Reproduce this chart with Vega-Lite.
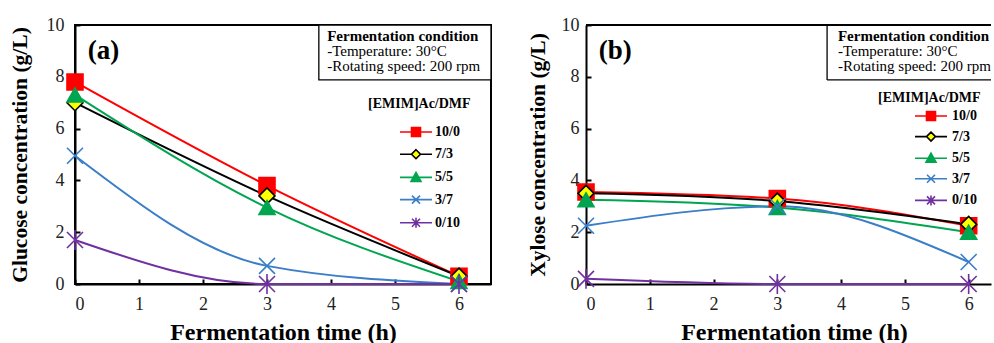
{
  "$schema": "https://vega.github.io/schema/vega-lite/v6.json",
  "padding": {"left": 7, "top": 15, "right": 0, "bottom": 0},
  "background": "white",
  "spacing": 95,
  "bounds": "flush",
  "config": {
    "font": "Liberation Serif",
    "view": {"stroke": "black", "strokeWidth": 2},
    "axis": {
      "grid": false,
      "domainColor": "black",
      "domainWidth": 2,
      "tickColor": "black",
      "tickWidth": 2,
      "tickSize": -5,
      "labelFont": "Liberation Serif",
      "labelFontSize": 18,
      "labelColor": "#222",
      "titleFont": "Liberation Serif",
      "titleFontWeight": "bold",
      "titleColor": "black",
      "format": "d"
    },
    "legend": {
      "titleFont": "Liberation Serif",
      "titleFontSize": 14,
      "titleFontWeight": "bold",
      "titleColor": "black",
      "labelFont": "Liberation Serif",
      "labelFontSize": 14,
      "labelFontWeight": "bold",
      "labelColor": "black",
      "symbolSize": 100,
      "symbolStrokeWidth": 1.6,
      "symbolOpacity": 1
    }
  },
  "datasets": {
    "glucose": [
      {"t": 0, "c": 7.8, "ratio": "10/0"}, {"t": 3, "c": 3.8, "ratio": "10/0"}, {"t": 6, "c": 0.3, "ratio": "10/0"},
      {"t": 0, "c": 7.0, "ratio": "7/3"}, {"t": 3, "c": 3.4, "ratio": "7/3"}, {"t": 6, "c": 0.3, "ratio": "7/3"},
      {"t": 0, "c": 7.3, "ratio": "5/5"}, {"t": 3, "c": 2.95, "ratio": "5/5"}, {"t": 6, "c": 0.1, "ratio": "5/5"},
      {"t": 0, "c": 4.95, "ratio": "3/7"}, {"t": 3, "c": 0.7, "ratio": "3/7"}, {"t": 6, "c": 0.0, "ratio": "3/7"},
      {"t": 0, "c": 1.7, "ratio": "0/10"}, {"t": 3, "c": 0.0, "ratio": "0/10"}, {"t": 6, "c": 0.0, "ratio": "0/10"}
    ],
    "xylose": [
      {"t": 0, "c": 3.55, "ratio": "10/0"}, {"t": 3, "c": 3.3, "ratio": "10/0"}, {"t": 6, "c": 2.25, "ratio": "10/0"},
      {"t": 0, "c": 3.5, "ratio": "7/3"}, {"t": 3, "c": 3.2, "ratio": "7/3"}, {"t": 6, "c": 2.3, "ratio": "7/3"},
      {"t": 0, "c": 3.25, "ratio": "5/5"}, {"t": 3, "c": 2.95, "ratio": "5/5"}, {"t": 6, "c": 2.0, "ratio": "5/5"},
      {"t": 0, "c": 2.25, "ratio": "3/7"}, {"t": 3, "c": 3.0, "ratio": "3/7"}, {"t": 6, "c": 0.85, "ratio": "3/7"},
      {"t": 0, "c": 0.2, "ratio": "0/10"}, {"t": 3, "c": 0.0, "ratio": "0/10"}, {"t": 6, "c": 0.0, "ratio": "0/10"}
    ]
  },
  "resolve": {
    "scale": {"x": "independent", "y": "independent", "color": "independent", "shape": "independent", "fill": "independent", "stroke": "independent", "size": "independent"},
    "legend": {"shape": "independent", "fill": "independent", "stroke": "independent"}
  },
  "hconcat": [
    {
      "width": 416,
      "height": 259,
      "resolve": {"scale": {"shape": "independent", "fill": "independent", "stroke": "independent", "size": "independent"}},
      "layer": [
        {
          "data": {"name": "glucose"},
          "mark": {"type": "line", "strokeWidth": 2, "interpolate": "monotone"},
          "encoding": {
            "x": {"field": "t", "type": "quantitative", "scale": {"domain": [0, 6.5], "nice": false}, "axis": {"values": [0, 1, 2, 3, 4, 5, 6], "title": "Fermentation time (h)", "labelPadding": 16, "titlePadding": 7, "titleFontSize": 24}},
            "y": {"field": "c", "type": "quantitative", "scale": {"domain": [0, 10], "nice": false}, "axis": {"values": [0, 2, 4, 6, 8, 10], "title": "Glucose concentration (g/L)", "labelPadding": 16, "titlePadding": 15, "titleFontSize": 21.5}},
            "color": {"field": "ratio", "type": "nominal", "scale": {"domain": ["0/10", "3/7", "5/5", "7/3", "10/0"], "range": ["#7030a0", "#3a7ec8", "#00a550", "#000000", "#ff0000"]}, "legend": null}
          }
        },
        {
          "data": {"name": "glucose"},
          "mark": {"type": "point", "strokeWidth": 1.6, "opacity": 1},
          "encoding": {
            "x": {"field": "t", "type": "quantitative"},
            "y": {"field": "c", "type": "quantitative"},
            "size": {"field": "ratio", "type": "nominal", "scale": {"domain": ["0/10", "3/7", "5/5", "7/3", "10/0"], "range": [256, 256, 180, 144, 225]}, "legend": null},
            "shape": {"field": "ratio", "type": "nominal", "scale": {"domain": ["0/10", "3/7", "5/5", "7/3", "10/0"], "range": ["M-1,-1L1,1M-1,1L1,-1M0,-1.25L0,1.25", "M-1,-1L1,1M-1,1L1,-1", "triangle-up", "diamond", "square"]}, "legend": null},
            "fill": {"field": "ratio", "type": "nominal", "scale": {"domain": ["0/10", "3/7", "5/5", "7/3", "10/0"], "range": ["transparent", "transparent", "#00a550", "#ffff00", "#ff0000"]}, "legend": null},
            "stroke": {"field": "ratio", "type": "nominal", "scale": {"domain": ["0/10", "3/7", "5/5", "7/3", "10/0"], "range": ["#7030a0", "#3a7ec8", "#00a550", "#000000", "#ff0000"]}, "legend": null}
          }
        },
        {
          "data": {"name": "glucose"},
          "mark": {"type": "point", "strokeWidth": 1.6, "opacity": 0, "filled": true},
          "encoding": {
            "x": {"field": "t", "type": "quantitative"},
            "y": {"field": "c", "type": "quantitative"},
            "shape": {"field": "ratio", "type": "nominal",
              "scale": {"domain": ["10/0", "7/3", "5/5", "3/7", "0/10"], "range": ["M-3.2,0L3.2,0M-0.9,-0.9L0.9,-0.9L0.9,0.9L-0.9,0.9Z", "M-3.2,0L-0.9,0M0.9,0L3.2,0M0,-0.9L0.9,0L0,0.9L-0.9,0Z", "M-3.2,0L3.2,0M0,-1L1,0.8L-1,0.8Z", "M-3.2,0L3.2,0M-0.8,-0.8L0.8,0.8M-0.8,0.8L0.8,-0.8", "M-3.2,0L3.2,0M-0.8,-0.8L0.8,0.8M-0.8,0.8L0.8,-0.8M0,-1L0,1"]},
              "legend": {"title": "[EMIM]Ac/DMF", "orient": "none", "legendX": 293, "legendY": 72, "titlePadding": 14, "rowPadding": 6.2, "symbolOffset": 41, "labelOffset": 12, "symbolOpacity": 1}},
            "fill": {"field": "ratio", "type": "nominal",
              "scale": {"domain": ["10/0", "7/3", "5/5", "3/7", "0/10"], "range": ["#ff0000", "#ffff00", "#00a550", "transparent", "transparent"]},
              "legend": {"title": "[EMIM]Ac/DMF", "orient": "none", "legendX": 293, "legendY": 72, "titlePadding": 14, "rowPadding": 6.2, "symbolOffset": 41, "labelOffset": 12, "symbolOpacity": 1}},
            "stroke": {"field": "ratio", "type": "nominal",
              "scale": {"domain": ["10/0", "7/3", "5/5", "3/7", "0/10"], "range": ["#ff0000", "#000000", "#00a550", "#3a7ec8", "#7030a0"]},
              "legend": {"title": "[EMIM]Ac/DMF", "orient": "none", "legendX": 293, "legendY": 72, "titlePadding": 14, "rowPadding": 6.2, "symbolOffset": 41, "labelOffset": 12, "symbolOpacity": 1}}
          }
        },
        {
          "data": {"values": [{}]},
          "mark": {"type": "rect", "fill": "white", "stroke": "black", "strokeWidth": 1.3},
          "encoding": {
            "x": {"datum": 3.81, "type": "quantitative"},
            "x2": {"datum": 6.5},
            "y": {"datum": 7.88, "type": "quantitative"},
            "y2": {"datum": 10}
          }
        },
        {
          "data": {"values": [{"label": "Fermentation condition"}]},
          "mark": {"type": "text", "align": "left", "baseline": "middle", "fontSize": 15, "fontWeight": "bold", "color": "black"},
          "encoding": {"x": {"datum": 3.94, "type": "quantitative"}, "y": {"datum": 9.58, "type": "quantitative"}, "text": {"field": "label"}}
        },
        {
          "data": {"values": [{"label": "-Temperature: 30°C"}]},
          "mark": {"type": "text", "align": "left", "baseline": "middle", "fontSize": 15, "color": "black"},
          "encoding": {"x": {"datum": 3.94, "type": "quantitative"}, "y": {"datum": 8.98, "type": "quantitative"}, "text": {"field": "label"}}
        },
        {
          "data": {"values": [{"label": "-Rotating speed: 200 rpm"}]},
          "mark": {"type": "text", "align": "left", "baseline": "middle", "fontSize": 15, "color": "black"},
          "encoding": {"x": {"datum": 3.94, "type": "quantitative"}, "y": {"datum": 8.4, "type": "quantitative"}, "text": {"field": "label"}}
        },
        {
          "data": {"values": [{"label": "(a)"}]},
          "mark": {"type": "text", "align": "left", "baseline": "middle", "fontSize": 27, "fontWeight": "bold", "color": "black"},
          "encoding": {"x": {"datum": 0.2, "type": "quantitative"}, "y": {"datum": 9.0, "type": "quantitative"}, "text": {"field": "label"}}
        }
      ]
    },
    {
      "width": 405,
      "height": 259,
      "view": {"stroke": null},
      "resolve": {"scale": {"shape": "independent", "fill": "independent", "stroke": "independent", "size": "independent"}},
      "layer": [
        {
          "data": {"values": [{}]},
          "mark": {"type": "rule", "stroke": "black", "strokeWidth": 2},
          "encoding": {"y": {"datum": 10, "type": "quantitative"}}
        },
        {
          "data": {"name": "xylose"},
          "mark": {"type": "line", "strokeWidth": 2, "interpolate": "monotone"},
          "encoding": {
            "x": {"field": "t", "type": "quantitative", "scale": {"domain": [0, 6.35], "nice": false}, "axis": {"values": [0, 1, 2, 3, 4, 5, 6], "title": "Fermentation time (h)", "labelPadding": 16, "titlePadding": 7, "titleFontSize": 24, "titleX": 208}},
            "y": {"field": "c", "type": "quantitative", "scale": {"domain": [0, 10], "nice": false}, "axis": {"values": [0, 2, 4, 6, 8, 10], "title": "Xylose concentration (g/L)", "labelPadding": 12, "titlePadding": 12, "titleFontSize": 21.5}},
            "color": {"field": "ratio", "type": "nominal", "scale": {"domain": ["0/10", "3/7", "5/5", "7/3", "10/0"], "range": ["#7030a0", "#3a7ec8", "#00a550", "#000000", "#ff0000"]}, "legend": null}
          }
        },
        {
          "data": {"name": "xylose"},
          "mark": {"type": "point", "strokeWidth": 1.6, "opacity": 1},
          "encoding": {
            "x": {"field": "t", "type": "quantitative"},
            "y": {"field": "c", "type": "quantitative"},
            "size": {"field": "ratio", "type": "nominal", "scale": {"domain": ["0/10", "3/7", "5/5", "7/3", "10/0"], "range": [256, 256, 180, 144, 225]}, "legend": null},
            "shape": {"field": "ratio", "type": "nominal", "scale": {"domain": ["0/10", "3/7", "5/5", "7/3", "10/0"], "range": ["M-1,-1L1,1M-1,1L1,-1M0,-1.25L0,1.25", "M-1,-1L1,1M-1,1L1,-1", "triangle-up", "diamond", "square"]}, "legend": null},
            "fill": {"field": "ratio", "type": "nominal", "scale": {"domain": ["0/10", "3/7", "5/5", "7/3", "10/0"], "range": ["transparent", "transparent", "#00a550", "#ffff00", "#ff0000"]}, "legend": null},
            "stroke": {"field": "ratio", "type": "nominal", "scale": {"domain": ["0/10", "3/7", "5/5", "7/3", "10/0"], "range": ["#7030a0", "#3a7ec8", "#00a550", "#000000", "#ff0000"]}, "legend": null}
          }
        },
        {
          "data": {"name": "xylose"},
          "mark": {"type": "point", "strokeWidth": 1.6, "opacity": 0, "filled": true},
          "encoding": {
            "x": {"field": "t", "type": "quantitative"},
            "y": {"field": "c", "type": "quantitative"},
            "shape": {"field": "ratio", "type": "nominal",
              "scale": {"domain": ["10/0", "7/3", "5/5", "3/7", "0/10"], "range": ["M-3.2,0L3.2,0M-0.9,-0.9L0.9,-0.9L0.9,0.9L-0.9,0.9Z", "M-3.2,0L-0.9,0M0.9,0L3.2,0M0,-0.9L0.9,0L0,0.9L-0.9,0Z", "M-3.2,0L3.2,0M0,-1L1,0.8L-1,0.8Z", "M-3.2,0L3.2,0M-0.8,-0.8L0.8,0.8M-0.8,0.8L0.8,-0.8", "M-3.2,0L3.2,0M-0.8,-0.8L0.8,0.8M-0.8,0.8L0.8,-0.8M0,-1L0,1"]},
              "legend": {"title": "[EMIM]Ac/DMF", "orient": "none", "legendX": 292, "legendY": 66, "titlePadding": 4, "rowPadding": 4.6, "symbolOffset": 46, "labelOffset": 14, "symbolOpacity": 1}},
            "fill": {"field": "ratio", "type": "nominal",
              "scale": {"domain": ["10/0", "7/3", "5/5", "3/7", "0/10"], "range": ["#ff0000", "#ffff00", "#00a550", "transparent", "transparent"]},
              "legend": {"title": "[EMIM]Ac/DMF", "orient": "none", "legendX": 292, "legendY": 66, "titlePadding": 4, "rowPadding": 4.6, "symbolOffset": 46, "labelOffset": 14, "symbolOpacity": 1}},
            "stroke": {"field": "ratio", "type": "nominal",
              "scale": {"domain": ["10/0", "7/3", "5/5", "3/7", "0/10"], "range": ["#ff0000", "#000000", "#00a550", "#3a7ec8", "#7030a0"]},
              "legend": {"title": "[EMIM]Ac/DMF", "orient": "none", "legendX": 292, "legendY": 66, "titlePadding": 4, "rowPadding": 4.6, "symbolOffset": 46, "labelOffset": 14, "symbolOpacity": 1}}
          }
        },
        {
          "data": {"values": [{}]},
          "mark": {"type": "rule", "stroke": "black", "strokeWidth": 1.3},
          "encoding": {"x": {"datum": 3.78, "type": "quantitative"}, "y": {"datum": 7.88, "type": "quantitative"}, "y2": {"datum": 10}}
        },
        {
          "data": {"values": [{}]},
          "mark": {"type": "rule", "stroke": "black", "strokeWidth": 1.3},
          "encoding": {"x": {"datum": 3.78, "type": "quantitative"}, "x2": {"datum": 6.35}, "y": {"datum": 7.88, "type": "quantitative"}}
        },
        {
          "data": {"values": [{"label": "Fermentation condition"}]},
          "mark": {"type": "text", "align": "left", "baseline": "middle", "fontSize": 15, "fontWeight": "bold", "color": "black"},
          "encoding": {"x": {"datum": 3.95, "type": "quantitative"}, "y": {"datum": 9.58, "type": "quantitative"}, "text": {"field": "label"}}
        },
        {
          "data": {"values": [{"label": "-Temperature: 30°C"}]},
          "mark": {"type": "text", "align": "left", "baseline": "middle", "fontSize": 15, "color": "black"},
          "encoding": {"x": {"datum": 3.95, "type": "quantitative"}, "y": {"datum": 8.98, "type": "quantitative"}, "text": {"field": "label"}}
        },
        {
          "data": {"values": [{"label": "-Rotating speed: 200 rpm"}]},
          "mark": {"type": "text", "align": "left", "baseline": "middle", "fontSize": 15, "color": "black"},
          "encoding": {"x": {"datum": 3.95, "type": "quantitative"}, "y": {"datum": 8.4, "type": "quantitative"}, "text": {"field": "label"}}
        },
        {
          "data": {"values": [{"label": "(b)"}]},
          "mark": {"type": "text", "align": "left", "baseline": "middle", "fontSize": 27, "fontWeight": "bold", "color": "black"},
          "encoding": {"x": {"datum": 0.2, "type": "quantitative"}, "y": {"datum": 9.0, "type": "quantitative"}, "text": {"field": "label"}}
        }
      ]
    }
  ]
}
